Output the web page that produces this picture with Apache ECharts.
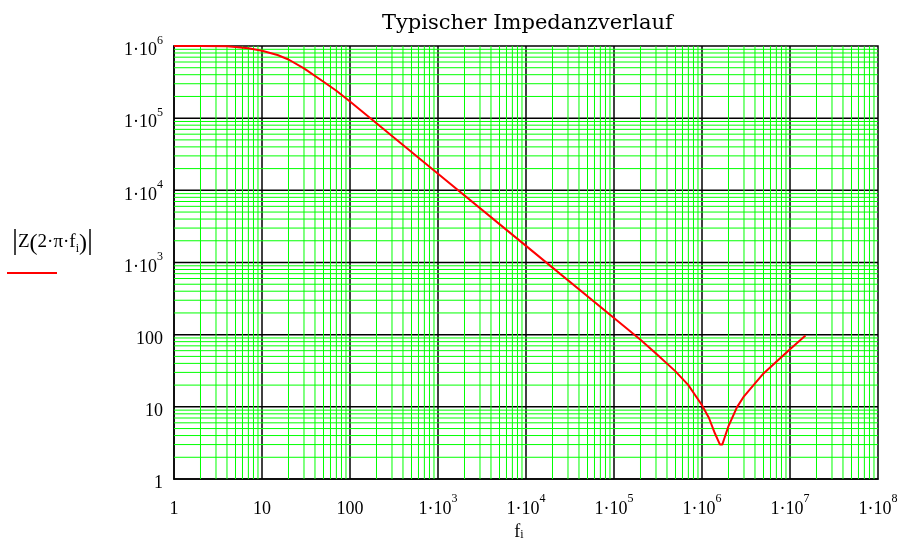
<!DOCTYPE html>
<html><head><meta charset="utf-8">
<script src="https://cdn.jsdelivr.net/npm/echarts@6/dist/echarts.min.js"></script>
<style>html,body{margin:0;padding:0;background:#fff}#c{width:898px;height:538px}</style>
</head><body><div id="c"></div>
<script>
// frequency f_i (Hz) and |Z(2·π·f_i)|
const frequency = [1, 2, 4, 5, 7, 10, 15, 20, 30, 50, 70, 100, 200, 500, 1000, 10000, 100000, 200000, 300000, 500000, 700000, 1000000, 1200000, 1400000, 1600000, 1700000, 1800000, 2000000, 2500000, 3000000, 5000000, 10000000, 15000000];
const impedance = [1000000, 1000000, 990000, 970000, 930000, 860000, 750000, 650000, 490000, 320000, 240000, 170000, 85000, 34000, 17000, 1700, 170, 85, 55, 31, 20, 10.5, 7, 4.3, 3.0, 3.0, 3.7, 5.4, 9.9, 14, 29, 63, 97];

const xTickLabels = ['1', '10', '100', '1·10^3', '1·10^4', '1·10^5', '1·10^6', '1·10^7', '1·10^8'];
const yTickLabels = ['1', '10', '100', '1·10^3', '1·10^4', '1·10^5', '1·10^6'];
const xRange = [1, 1e8];
const yRange = [1, 1e6];
const xDecades = [1, 10, 100, 1e3, 1e4, 1e5, 1e6, 1e7];
const yDecades = [1, 10, 100, 1e3, 1e4, 1e5];
const minorMultipliers = [2, 3, 4, 5, 6, 7, 8, 9];

const serif = 'Liberation Serif';
function fmt(lbls) {
  return function (v) {
    const e = Math.log10(v);
    if (Math.abs(e - Math.round(e)) > 1e-6) return '';
    const s = lbls[Math.round(e)] || '';
    const p = s.split('^');
    return p.length > 1 ? '{b|' + p[0] + '}{s|' + p[1] + '}' : '{b|' + s + '}';
  };
}
const labelRich = {
  b: { fontFamily: serif, fontSize: 18, color: '#000', padding: [9, 0, 0, 0], verticalAlign: 'bottom' },
  s: { fontFamily: serif, fontSize: 12, color: '#000', padding: [0, 0, 13, 0], verticalAlign: 'bottom' }
};

// grid line polylines (vertical at x values, horizontal at y values), broken with '-'
function vLines(xs) { const d = []; xs.forEach(x => { d.push([x, yRange[0]], [x, yRange[1]], [x, '-']); }); return d; }
function hLines(ys) { const d = []; ys.forEach(y => { d.push([xRange[0], y], [xRange[1], y], ['-', y]); }); return d; }
const minorXv = [], minorYv = [];
xDecades.forEach(d => minorMultipliers.forEach(m => minorXv.push(d * m)));
yDecades.forEach(d => minorMultipliers.forEach(m => minorYv.push(d * m)));
const majorXv = xDecades.slice(1), majorYv = yDecades.slice(1);

function gridSeries(name, data, color, width, z) {
  return { type: 'line', name: name, data: data, z: z, silent: true, showSymbol: false, symbol: 'none',
    connectNulls: false, animation: false, lineStyle: { color: color, width: width }, emphasis: { disabled: true } };
}

const chart = echarts.init(document.getElementById('c'));
chart.setOption({
  animation: false,
  title: {
    text: 'Typischer Impedanzverlauf', left: 377, top: 8,
    textStyle: { fontFamily: 'DejaVu Serif', fontSize: 21, fontWeight: 'normal', color: '#000' }
  },
  grid: { left: 174, top: 46, width: 704, height: 433, outerBoundsMode: 'none', containLabel: false,
          show: true, borderColor: '#000', borderWidth: 1.5 },
  xAxis: {
    type: 'log', logBase: 10, min: xRange[0], max: xRange[1], interval: 1,
    axisLine: { show: true, lineStyle: { color: '#000', width: 1.5 } },
    axisTick: { show: false },
    splitLine: { show: false },
    minorTick: { show: false },
    minorSplitLine: { show: false },
    axisLabel: { formatter: fmt(xTickLabels), rich: labelRich, margin: 12 },
    name: '{f|f}{i|i}', nameLocation: 'middle', nameGap: 44,
    nameTextStyle: { padding: [0, 14, 0, 0], rich: {
      f: { fontFamily: serif, fontSize: 18, color: '#000', verticalAlign: 'bottom' },
      i: { fontFamily: serif, fontSize: 12, color: '#000', padding: [6, 0, 0, 0], verticalAlign: 'bottom' }
    } }
  },
  yAxis: {
    type: 'log', logBase: 10, min: yRange[0], max: yRange[1], interval: 1,
    axisLine: { show: true, lineStyle: { color: '#000', width: 1.5 } },
    axisTick: { show: false },
    splitLine: { show: false },
    minorTick: { show: false },
    minorSplitLine: { show: false },
    axisLabel: { formatter: fmt(yTickLabels), rich: labelRich, margin: 11 }
  },
  graphic: [
    {
      type: 'text', left: 12, top: 226,
      style: {
        text: '{a||}{t|Z}{p|(}{t|2·π·f}{u|i}{p|)}{a||}',
        rich: {
          a: { fontFamily: serif, fontSize: 30, fill: '#000', verticalAlign: 'bottom' },
          p: { fontFamily: serif, fontSize: 24, fill: '#000', verticalAlign: 'bottom' },
          t: { fontFamily: serif, fontSize: 19, fill: '#000', verticalAlign: 'bottom', padding: [0, 0, 4, 0] },
          u: { fontFamily: serif, fontSize: 12, fill: '#000', verticalAlign: 'bottom', padding: [0, 0, 1, 0] }
        }
      }
    },
    { type: 'line', shape: { x1: 7, y1: 273, x2: 57, y2: 273 }, style: { stroke: '#ff0000', lineWidth: 2 } }
  ],
  series: [
    gridSeries('majorX', vLines(majorXv), '#000', 1.5, 1),
    gridSeries('majorY', hLines(majorYv), '#000', 1.5, 1),
    gridSeries('minorX', vLines(minorXv), '#00ff00', 1, 2),
    gridSeries('minorY', hLines(minorYv), '#00ff00', 1, 2),
    {
      type: 'line', name: '|Z|',
      data: frequency.map((f, i) => [f, impedance[i]]),
      showSymbol: false, symbol: 'none', z: 3,
      lineStyle: { color: '#ff0000', width: 2 }
    }
  ]
});
</script></body></html>
